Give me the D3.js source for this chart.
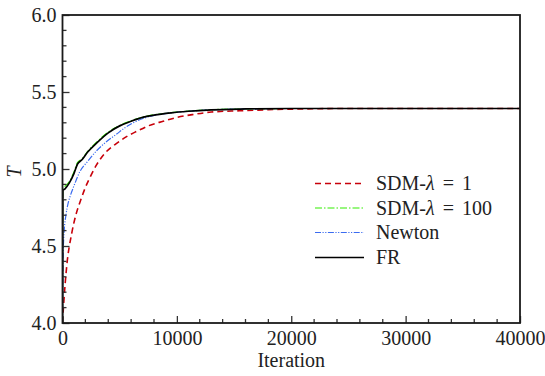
<!DOCTYPE html>
<html lang="en">
<head>
    <meta charset="UTF-8">
    <title>T vs Iteration</title>
    <script src="https://cdnjs.cloudflare.com/ajax/libs/d3/7.8.2/d3.min.js"></script>
    <style>
        body{ margin: 0; background: #fff; }
        svg{ display: block; }
        svg text{ font-family: "Liberation Serif", "Times New Roman", Times, "DejaVu Serif", serif; }
        .tick text{ font-size: 20px; fill: #222; }
    </style>
</head>
<body>
    <div class="container"></div>
    <script>
        // data
        let redData = [[0,4.0],[100,4.12],[370,4.37],[800,4.58],[1200,4.71],[1600,4.8],[2000,4.88],[2500,4.96],[3000,5.03],[3800,5.11],[4700,5.165],[5600,5.21],[6500,5.245],[7500,5.28],[8800,5.31],[10000,5.335],[11500,5.355],[13000,5.37],[15500,5.378],[18000,5.385],[21000,5.39],[25000,5.393],[40000,5.393]];
        let greenData = [[0,4.0],[30,4.88],[250,4.89],[650,4.925],[1000,4.98],[1300,5.04],[1700,5.065],[2200,5.115],[3000,5.175],[4000,5.24],[5000,5.283],[6000,5.313],[7000,5.337],[8000,5.352],[9500,5.366],[11000,5.376],[13000,5.385],[16000,5.39],[20000,5.393],[40000,5.393]];
        let blueData = [[0,4.0],[60,4.45],[150,4.6],[300,4.7],[500,4.78],[700,4.83],[1000,4.89],[1500,4.98],[2200,5.05],[3000,5.12],[3800,5.175],[4700,5.225],[5500,5.27],[6600,5.315],[8000,5.348],[9500,5.365],[11000,5.375],[13000,5.384],[16000,5.39],[20000,5.393],[40000,5.393]];
        let frData = [[0,4.0],[30,4.86],[200,4.87],[600,4.91],[1000,4.97],[1300,5.03],[1700,5.06],[2200,5.11],[3000,5.17],[4000,5.235],[5000,5.28],[6000,5.31],[7000,5.335],[8000,5.35],[9500,5.365],[11000,5.375],[13000,5.384],[16000,5.39],[20000,5.393],[40000,5.393]];

        let seriesNames = ['SDM-λ = 1', 'SDM-λ = 100', 'Newton', 'FR'];
        let xTicks = [0, 10000, 20000, 30000, 40000];
        let yTicks = [4.0, 4.5, 5.0, 5.5, 6.0];

        let width = 545;
        let height = 376;
        let mLeft = 62.5, mRight = 520, mTop = 15, mBottom = 323;

        let svg = d3.select('.container').append('svg')
                    .attr('width', width).attr('height', height);

        let xScale = d3.scaleLinear().domain([0, 40000]).range([mLeft, mRight]);
        let yScale = d3.scaleLinear().domain([4, 6]).range([mBottom, mTop]);

        let styles = [
            {data: redData, color: '#c8000a', dash: '6,4', w: 1.6},
            {data: greenData, color: '#33ee00', dash: '7,2,1.5,2', w: 1.2},
            {data: blueData, color: '#3b6cf0', dash: '6,1.5,1.2,1.5,1.2,1.5', w: 1.2},
            {data: frData, color: '#000', dash: null, w: 1.7}
        ];

        // clip
        svg.append('clipPath').attr('id', 'clip')
           .append('rect').attr('x', mLeft).attr('y', mTop)
           .attr('width', mRight - mLeft).attr('height', mBottom - mTop);

        let line = d3.line()
                     .x(d => xScale(d[0]))
                     .y(d => yScale(d[1]))
                     .curve(d3.curveMonotoneX);

        styles.forEach(s => {
            svg.append('path')
               .attr('clip-path', 'url(#clip)')
               .attr('d', line(s.data))
               .attr('fill', 'none')
               .attr('stroke', s.color)
               .attr('stroke-width', s.w)
               .attr('stroke-dasharray', s.dash);
        });

        // minor ticks
        let xMinor = d3.range(0, 40001, 2000).filter(v => v % 10000 != 0);
        let yMinor = d3.range(41, 60).map(v => v / 10).filter(v => Math.round(v * 10) % 5 != 0);

        let xAxis = d3.axisBottom(xScale).tickValues(xTicks).tickSize(-7).tickPadding(8).tickFormat(d3.format('d'));
        let gx = svg.append('g').attr('transform', `translate(0,${mBottom})`).call(xAxis);
        xMinor.forEach(v => {
            gx.append('line').attr('class', 'minor')
              .attr('x1', xScale(v)).attr('x2', xScale(v))
              .attr('y1', 0).attr('y2', -4);
        });

        let yAxis = d3.axisLeft(yScale).tickValues(yTicks).tickSize(-7).tickPadding(6).tickFormat(d3.format('.1f'));
        let gy = svg.append('g').attr('transform', `translate(${mLeft},0)`).call(yAxis);
        yMinor.forEach(v => {
            gy.append('line').attr('class', 'minor')
              .attr('x1', 0).attr('x2', 4)
              .attr('y1', yScale(v)).attr('y2', yScale(v));
        });

        // d3 axis sets font-family on the group; drop it so the css font applies
        gx.attr('font-family', null).attr('font-size', null);
        gy.attr('font-family', null).attr('font-size', null);

        svg.selectAll('.domain').remove();
        svg.selectAll('.tick line, line.minor').attr('stroke', '#333').attr('stroke-width', 1.3);

        // frame
        svg.append('rect')
           .attr('x', mLeft).attr('y', mTop)
           .attr('width', mRight - mLeft).attr('height', mBottom - mTop)
           .attr('fill', 'none').attr('stroke', '#1a1a1a').attr('stroke-width', 1.8);

        // axis titles
        svg.append('text')
           .attr('x', (mLeft + mRight) / 2).attr('y', 367)
           .attr('text-anchor', 'middle')
           .style('font-size', '20px').style('fill', '#222')
           .text('Iteration');

        svg.append('text')
           .attr('transform', 'translate(21,172) rotate(-90)')
           .attr('text-anchor', 'middle')
           .style('font-size', '20px').style('font-style', 'italic').style('fill', '#222')
           .text('T');

        // legend
        let legend = svg.append('g');
        let rowY = [183.5, 208, 232.5, 257.5];
        styles.forEach((s, i) => {
            legend.append('line')
                  .attr('x1', 315).attr('x2', 364)
                  .attr('y1', rowY[i]).attr('y2', rowY[i])
                  .attr('stroke', s.color).attr('stroke-width', s.w)
                  .attr('stroke-dasharray', s.dash);
            let t = legend.append('text')
                  .attr('x', 376).attr('y', rowY[i] + 6.5)
                  .style('font-size', '20px').style('fill', '#222')
                  .style('word-spacing', '3px');
            let name = seriesNames[i];
            if (name.indexOf('λ') >= 0) {
                let parts = name.split('λ');
                t.append('tspan').text(parts[0]);
                t.append('tspan').style('font-style', 'italic').text('λ');
                t.append('tspan').text(parts[1]);
            } else {
                t.text(name);
            }
        });
    </script>
</body>
</html>
